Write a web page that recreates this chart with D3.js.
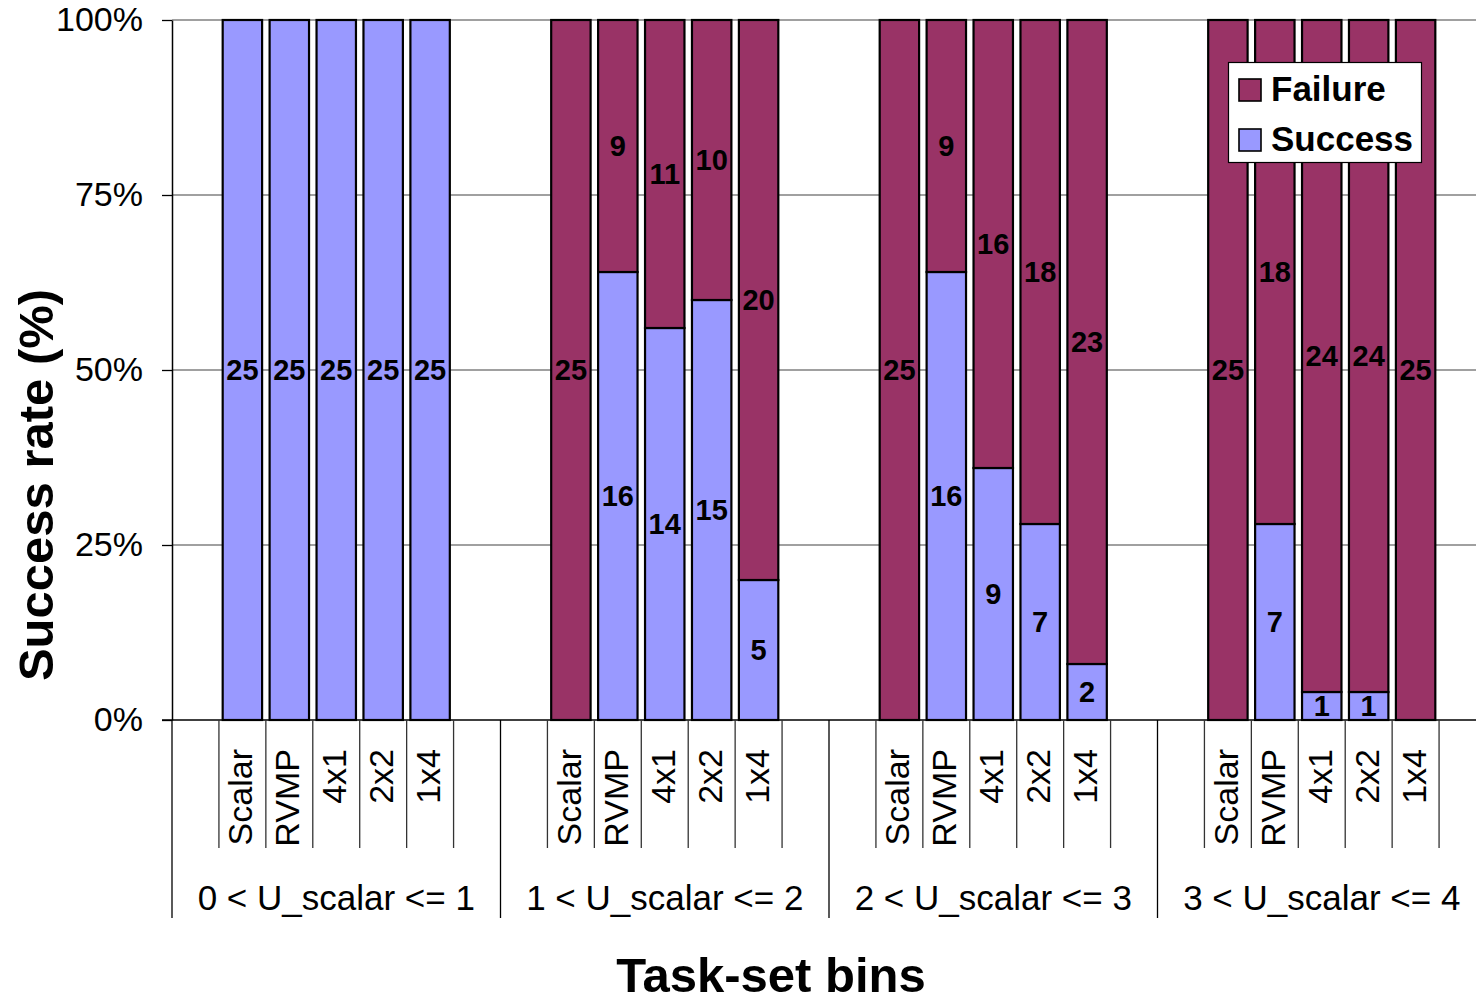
<!DOCTYPE html>
<html>
<head>
<meta charset="utf-8">
<script src="https://cdn.jsdelivr.net/npm/d3@7"></script>
<style>
  html, body { margin: 0; padding: 0; background: #fff; overflow: hidden; }
  svg { display: block; }
  text { font-family: "Liberation Sans", Arial, sans-serif; fill: #000; }
</style>
</head>
<body>
<svg id="chart" width="1476" height="1003"></svg>
<script>
// ---- data ----
const groups = ["0 < U_scalar <= 1", "1 < U_scalar <= 2", "2 < U_scalar <= 3", "3 < U_scalar <= 4"];
const configs = ["Scalar", "RVMP", "4x1", "2x2", "1x4"];
const successCounts = [
  [25, 25, 25, 25, 25],
  [0, 16, 14, 15, 5],
  [0, 16, 9, 7, 2],
  [0, 7, 1, 1, 0]
];
const failureCounts = [
  [0, 0, 0, 0, 0],
  [25, 9, 11, 10, 20],
  [25, 9, 16, 18, 23],
  [25, 18, 24, 24, 25]
];
const yTicks = [0, 25, 50, 75, 100];
const seriesNames = ["Failure", "Success"];
const colors = { Success: "#9999FF", Failure: "#993366" };

// ---- layout ----
const svg = d3.select("#chart");
const plotL = 172, plotR = 1486, plotT = 20, plotB = 720;

const xGroup = d3.scaleBand().domain(groups).range([plotL, plotR]).paddingInner(0).paddingOuter(0);
const xInner = d3.scaleBand().domain(configs).range([0, xGroup.bandwidth()]).paddingInner(0).paddingOuter(1);
const y = d3.scaleLinear().domain([0, 100]).range([plotB, plotT]);

// gridlines
svg.append("g").selectAll("line").data(yTicks.filter(d => d > 0)).join("line")
  .attr("x1", plotL).attr("x2", plotR)
  .attr("y1", d => y(d)).attr("y2", d => y(d))
  .attr("stroke", "#808080").attr("stroke-width", 1.3);

// build records
const records = [];
groups.forEach((g, gi) => {
  configs.forEach((c, ci) => {
    const s = successCounts[gi][ci], f = failureCounts[gi][ci];
    const total = s + f;
    const sp = s / total * 100;
    records.push({ g, c, series: "Success", count: s, y0: 0, y1: sp });
    records.push({ g, c, series: "Failure", count: f, y0: sp, y1: 100 });
  });
});

const step = xInner.step();
const barW = step * 0.84;
const barX = d => xGroup(d.g) + xInner(d.c) + (step - barW) / 2;

const segs = records.filter(d => d.count > 0);
svg.append("g").selectAll("rect").data(segs).join("rect")
  .attr("x", barX)
  .attr("width", barW)
  .attr("y", d => y(d.y1))
  .attr("height", d => y(d.y0) - y(d.y1))
  .attr("fill", d => colors[d.series])
  .attr("stroke", "#000").attr("stroke-width", 2.2);

// value labels
svg.append("g").selectAll("text").data(segs).join("text")
  .attr("x", d => barX(d) + barW / 2)
  .attr("y", d => (y(d.y0) + y(d.y1)) / 2)
  .attr("dy", "0.36em")
  .attr("text-anchor", "middle")
  .style("font-weight", "bold").style("font-size", "29px")
  .text(d => d.count);

// y axis
const yAxis = d3.axisLeft(y).tickValues(yTicks).tickSize(10).tickSizeOuter(0).tickPadding(19)
  .tickFormat(d => d + "%");
const ya = svg.append("g").attr("transform", `translate(${plotL},0)`).call(yAxis);
ya.select(".domain").attr("stroke", "#000").attr("stroke-width", 1.5);
ya.selectAll(".tick line").attr("stroke", "#000").attr("stroke-width", 1.3);
ya.selectAll(".tick text").style("font-size", "34px").style("font-family", "'Liberation Sans', Arial, sans-serif").attr("fill", "#000");

// x axis baseline
svg.append("line").attr("x1", plotL - 10).attr("x2", plotR).attr("y1", plotB).attr("y2", plotB)
  .attr("stroke", "#000").attr("stroke-width", 1.5);

// category divider lines
const innerBounds = [];
groups.forEach(g => {
  for (let k = 0; k < configs.length + 1; k++) {
    innerBounds.push(xGroup(g) + step * (k + 1));
  }
});
svg.append("g").selectAll("line").data(innerBounds).join("line")
  .attr("x1", d => d).attr("x2", d => d)
  .attr("y1", plotB).attr("y2", 848)
  .attr("stroke", "#333").attr("stroke-width", 1.3);

svg.append("g").selectAll("line").data(groups).join("line")
  .attr("x1", d => xGroup(d)).attr("x2", d => xGroup(d))
  .attr("y1", plotB).attr("y2", 918)
  .attr("stroke", "#000").attr("stroke-width", 1.3);

// category labels
const catLabels = [];
groups.forEach(g => configs.forEach(c => catLabels.push({ g, c })));
svg.append("g").selectAll("text").data(catLabels).join("text")
  .attr("transform", d => `translate(${xGroup(d.g) + xInner(d.c) + step / 2 + 10},749) rotate(-90)`)
  .attr("text-anchor", "end")
  .style("font-size", "34px")
  .text(d => d.c);

// group labels
svg.append("g").selectAll("text").data(groups).join("text")
  .attr("x", d => xGroup(d) + xGroup.bandwidth() / 2)
  .attr("y", 910)
  .attr("text-anchor", "middle")
  .style("font-size", "35px")
  .text(d => d);

// axis titles
svg.append("text")
  .attr("transform", "translate(53,485) rotate(-90)")
  .attr("text-anchor", "middle")
  .style("font-weight", "bold").style("font-size", "49px")
  .text("Success rate (%)");

svg.append("text")
  .attr("x", 771).attr("y", 992)
  .attr("text-anchor", "middle")
  .style("font-weight", "bold").style("font-size", "49px")
  .text("Task-set bins");

// legend
const lg = svg.append("g");
lg.append("rect").attr("x", 1228.5).attr("y", 62.5).attr("width", 193).attr("height", 100)
  .attr("fill", "#fff").attr("stroke", "#000").attr("stroke-width", 1.2);
const li = lg.selectAll("g.item").data(seriesNames).join("g").attr("class", "item")
  .attr("transform", (d, i) => `translate(0,${i * 50})`);
li.append("rect").attr("x", 1239).attr("y", 79).attr("width", 22).attr("height", 22)
  .attr("fill", d => colors[d]).attr("stroke", "#000").attr("stroke-width", 1.6);
li.append("text").attr("x", 1271).attr("y", 101)
  .style("font-weight", "bold").style("font-size", "35px")
  .text(d => d);
</script>
</body>
</html>
